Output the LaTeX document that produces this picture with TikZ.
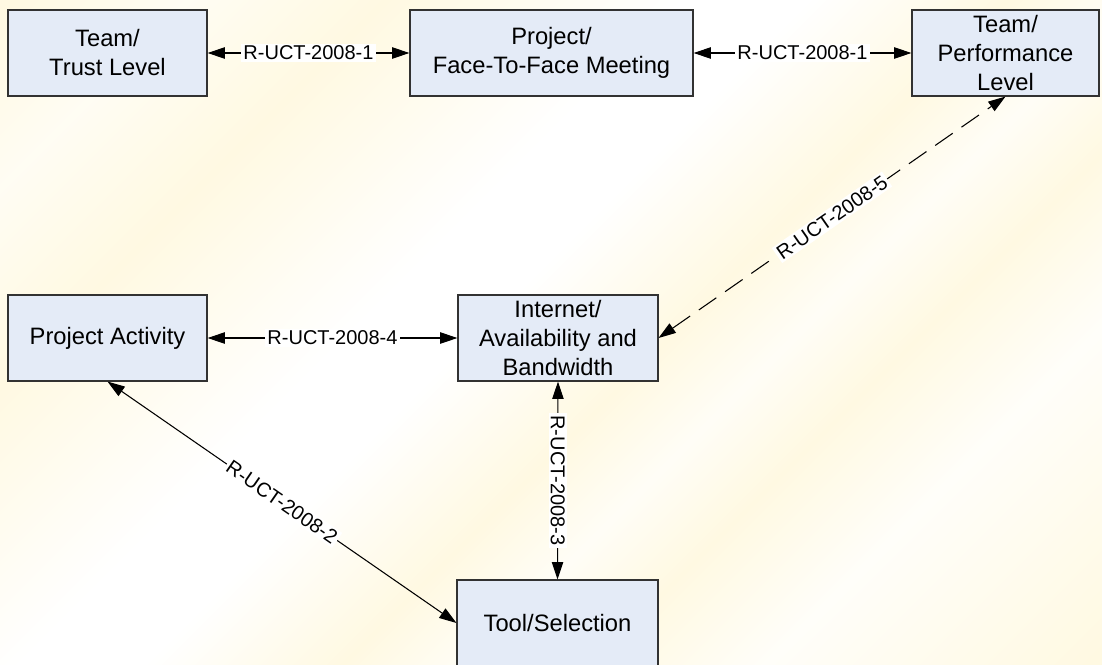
\documentclass[tikz,border=0pt]{standalone}
\usepackage{fontspec}
\setmainfont{Liberation Sans}
\usetikzlibrary{arrows.meta}

\definecolor{bgcream}{RGB}{255,249,226}
\definecolor{boxfill}{RGB}{228,235,247}
\definecolor{boxline}{RGB}{50,50,50}

% soft diagonal stripes for the page background
\pgfdeclarehorizontalshading{bgstripes}{100bp}{%
  color(0bp)=(bgcream); color(15bp)=(bgcream); color(22bp)=(white!60!bgcream);
  color(30bp)=(bgcream); color(42bp)=(white); color(47bp)=(white); color(55bp)=(bgcream);
  color(60bp)=(white!70!bgcream); color(65bp)=(bgcream); color(72bp)=(white!80!bgcream);
  color(85bp)=(bgcream); color(100bp)=(bgcream)}

\tikzset{
  entity/.style={draw=boxline, line width=0.8pt, fill=boxfill, rectangle,
    inner sep=0pt, align=center, minimum height=64.5pt,
    font=\fontsize{17.8pt}{21.75pt}\selectfont},
  rel/.style={line width=0.8pt, draw=black,
    {Triangle[length=13pt,width=8.5pt]}-{Triangle[length=13pt,width=8.5pt]}},
  rellabel/.style={fill=white, inner sep=1.5pt,
    font=\fontsize{15pt}{18pt}\selectfont},
}

\begin{document}
\begin{tikzpicture}[x=0.75pt, y=-0.75pt]
  \clip (0,0) rectangle (1102,664);
  \shade[shading=bgstripes, shading angle=-45] (0,0) rectangle (1102,664);

  % entities
  \node[entity, minimum width=149.25pt] (trust) at (107.5,53) {Team/\\Trust Level};
  \node[entity, minimum width=212.25pt] (meet)  at (551.5,53) {Project/\\Face-To-Face Meeting};
  \node[entity, minimum width=140.25pt] (perf)  at (1005.5,53) {Team/\\Performance\\Level};
  \node[entity, minimum width=149.25pt] (act)   at (107.5,338) {Project Activity};
  \node[entity, minimum width=150pt]    (net)   at (558,338) {Internet/\\Availability and\\Bandwidth};
  \node[entity, minimum width=150.75pt] (tool)  at (557.5,623) {Tool/Selection};

  % relations
  \draw[rel] (trust.east) -- node[rellabel] {R-UCT-2008-1} (meet.west);
  \draw[rel] (meet.east) -- node[rellabel] {R-UCT-2008-1} (perf.west);
  \draw[rel] (act.east) -- node[rellabel] {R-UCT-2008-4} (net.west);
  \draw[rel] (net.south) -- node[rellabel, rotate=-90] {R-UCT-2008-3} (tool.north);
  \draw[rel] (act.south) -- node[rellabel, sloped] {R-UCT-2008-2} (tool.west);
  \draw[rel, dash pattern=on 16pt off 8pt] (net.east) -- node[rellabel, sloped] {R-UCT-2008-5} (perf.south);
\end{tikzpicture}
\end{document}
